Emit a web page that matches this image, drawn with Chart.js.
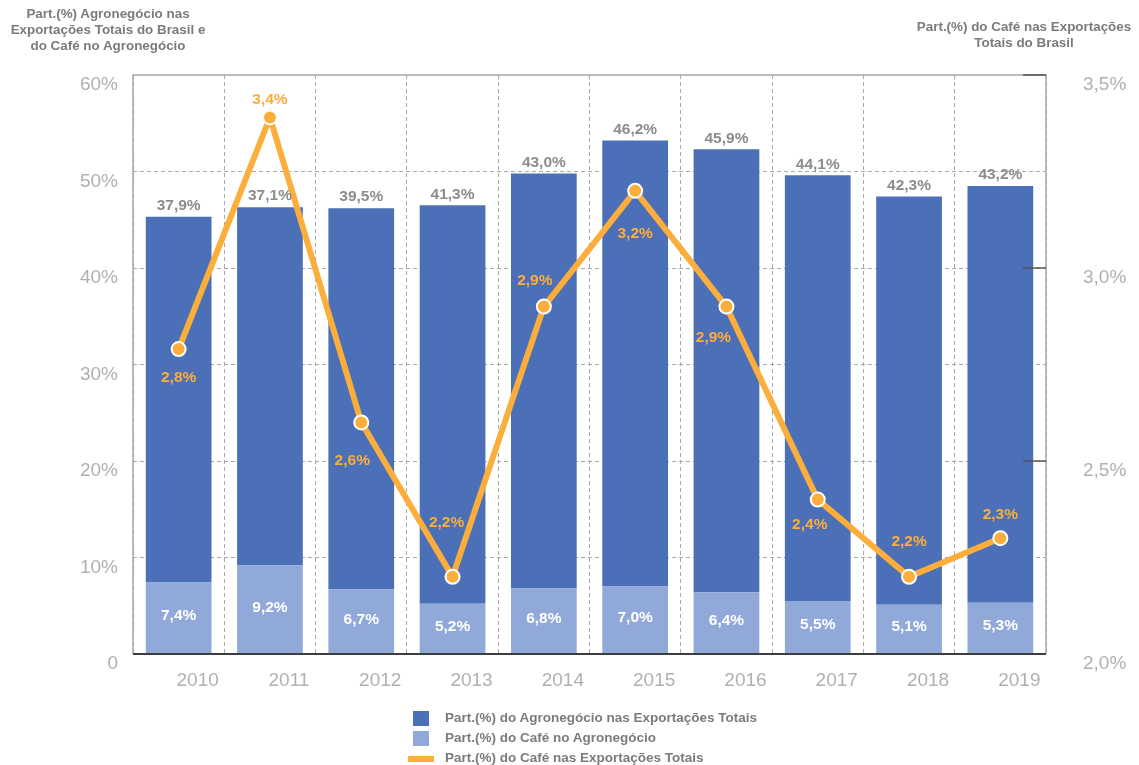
<!DOCTYPE html>
<html lang="pt-BR">
<head>
<meta charset="utf-8">
<title>Participação do Café nas Exportações</title>
<script src="https://cdn.jsdelivr.net/npm/chart.js@4.4.1/dist/chart.umd.min.js"></script>
<style>
    body { margin: 0; background: #fff; font-family: "Liberation Sans", Arial, sans-serif; }
    #wrap { position: relative; width: 1139px; height: 765px; }
    #chart { position: absolute; left: 0; top: 0; }
    .axis-title { position: absolute; font-weight: bold; font-size: 13.4px; line-height: 16px; color: #7b7b7b; text-align: center; white-space: nowrap; }
    #legend { position: absolute; left: 408px; top: 708px; font-weight: bold; font-size: 13.5px; color: #7b7b7b; }
    .item { position: relative; height: 20px; line-height: 20px; padding-left: 37px; white-space: nowrap; }
    .swatch { position: absolute; }
</style>
</head>
<body>
<div id="wrap">
    <canvas id="chart" width="1139" height="765"></canvas>
    <div class="axis-title" style="left:-2px; top:6px; width:220px;">Part.(%) Agronegócio nas<br>Exportações Totais do Brasil e<br>do Café no Agronegócio</div>
    <div class="axis-title" style="left:904px; top:19px; width:240px;">Part.(%) do Café nas Exportações<br>Totais do Brasil</div>
    <div id="legend"></div>
</div>
<script>
// ===== DATA =====
const years = ['2010', '2011', '2012', '2013', '2014', '2015', '2016', '2017', '2018', '2019'];
const agroShare = [37.9, 37.1, 39.5, 41.3, 43.0, 46.2, 45.9, 44.1, 42.3, 43.2];        // % agro in total exports
const coffeeShareAgro = [7.4, 9.2, 6.7, 5.2, 6.8, 7.0, 6.4, 5.5, 5.1, 5.3];           // % coffee in agro
const coffeeShareTotal = [2.79, 3.39, 2.6, 2.2, 2.9, 3.2, 2.9, 2.4, 2.2, 2.3];        // % coffee in total exports
const leftTicks = [0, 10, 20, 30, 40, 50, 60];
const rightTicks = [2.0, 2.5, 3.0, 3.5];

const seriesNames = [
    'Part.(%) do Agronegócio nas Exportações Totais',
    'Part.(%) do Café no Agronegócio',
    'Part.(%) do Café nas Exportações Totais'
];

// label placement for the line values (dx, dy from the point)
const lineLabelShift = [[0, 29], [0, -18], [-9, 38], [-6, -54], [-9, -26], [0, 43], [-13, 31], [-8, 25], [0, -35], [0, -23]];

// ===== STYLE =====
const FONT = '"Liberation Sans", Arial, sans-serif';
const DARK = '#4b70b7';
const LIGHT = '#91a9d9';
const ORANGE = '#fbae3c';
const GRID = '#a8a8a8';
const TICK_COLOR = '#b0b0b0';

const fmt = v => v.toFixed(1).replace('.', ',') + '%';

// ===== PLUGINS =====
const framePlugin = {
    id: 'frame',
    afterDatasetsDraw(chart) {
        const { ctx, chartArea: { left, top, right, bottom } } = chart;
        const y2 = chart.scales.y2;
        ctx.save();
        ctx.strokeStyle = GRID;
        ctx.lineWidth = 1.5;
        ctx.beginPath();
        ctx.moveTo(left, bottom);
        ctx.lineTo(left, top);
        ctx.lineTo(right, top);
        ctx.lineTo(right, bottom);
        ctx.stroke();

        // short inner ticks of the right axis
        ctx.strokeStyle = '#555';
        rightTicks.forEach(v => {
            const y = y2.getPixelForValue(v);
            ctx.beginPath();
            ctx.moveTo(right - 23, y);
            ctx.lineTo(right, y);
            ctx.stroke();
        });

        ctx.strokeStyle = '#3d3d3d';
        ctx.lineWidth = 2;
        ctx.beginPath();
        ctx.moveTo(left, bottom);
        ctx.lineTo(right, bottom);
        ctx.stroke();
        ctx.restore();
    }
};

const labelPlugin = {
    id: 'valueLabels',
    afterDatasetsDraw(chart) {
        const { ctx } = chart;
        const lineMeta = chart.getDatasetMeta(0);
        const lightMeta = chart.getDatasetMeta(1);
        const darkMeta = chart.getDatasetMeta(2);
        ctx.save();
        ctx.textAlign = 'center';
        ctx.textBaseline = 'middle';
        ctx.font = 'bold 15.5px ' + FONT;

        ctx.fillStyle = '#8c8c8c';
        darkMeta.data.forEach((bar, i) => ctx.fillText(fmt(agroShare[i]), bar.x, bar.y - 11));

        ctx.fillStyle = '#fff';
        lightMeta.data.forEach((bar, i) => ctx.fillText(fmt(coffeeShareAgro[i]), bar.x, (bar.y + bar.base) / 2 - 2));

        ctx.fillStyle = ORANGE;
        lineMeta.data.forEach((pt, i) => {
            const [dx, dy] = lineLabelShift[i];
            ctx.fillText(fmt(coffeeShareTotal[i]), pt.x + dx, pt.y + dy);
        });
        ctx.restore();
    }
};

// ===== CHART =====
const chart = new Chart(document.getElementById('chart'), {
    type: 'bar',
    data: {
        labels: years,
        datasets: [
            {
                type: 'line',
                label: seriesNames[2],
                data: coffeeShareTotal,
                yAxisID: 'y2',
                order: 0,
                borderColor: ORANGE,
                borderWidth: 6,
                pointRadius: 7,
                pointBackgroundColor: ORANGE,
                pointBorderColor: '#fff',
                pointBorderWidth: 2,
                tension: 0
            },
            {
                label: seriesNames[1],
                data: coffeeShareAgro,
                backgroundColor: LIGHT,
                order: 1
            },
            {
                label: seriesNames[0],
                data: agroShare,
                backgroundColor: DARK,
                order: 2
            }
        ]
    },
    options: {
        responsive: false,
        animation: false,
        layout: { padding: { top: 75, left: 0, right: 0, bottom: 0 } },
        datasets: { bar: { barPercentage: 0.72, categoryPercentage: 1 } },
        plugins: {
            legend: { display: false },
            tooltip: { enabled: false }
        },
        scales: {
            x: {
                stacked: true,
                afterFit: s => { s.height = 111; },
                grid: { offset: true, color: GRID, drawTicks: false },
                border: { display: false, dash: [4, 3] },
                ticks: { padding: 15, labelOffset: 19, color: TICK_COLOR, font: { size: 19, family: FONT } }
            },
            y: {
                stacked: true,
                min: 0,
                max: 60,
                afterBuildTicks: s => { s.ticks = leftTicks.map(v => ({ value: v })); },
                afterFit: s => { s.width = 133; },
                grid: {
                    color: c => (c.tick && c.tick.value > 0 && c.tick.value < 60) ? GRID : 'rgba(0,0,0,0)',
                    drawTicks: false
                },
                border: { display: false, dash: [4, 3] },
                ticks: {
                    padding: 15,
                    labelOffset: 10,
                    color: TICK_COLOR,
                    font: { size: 19, family: FONT },
                    callback: v => v === 0 ? '0' : v + '%'
                }
            },
            y2: {
                position: 'right',
                min: 2,
                max: 3.5,
                afterBuildTicks: s => { s.ticks = rightTicks.map(v => ({ value: v })); },
                afterFit: s => { s.width = 93; },
                grid: { display: false, drawTicks: false },
                border: { display: false },
                ticks: {
                    padding: 37,
                    labelOffset: 10,
                    color: TICK_COLOR,
                    font: { size: 19, family: FONT },
                    callback: v => fmt(v)
                }
            }
        }
    },
    plugins: [framePlugin, labelPlugin]
});

// ===== HTML LEGEND =====
const legendSwatches = [
    `<span class="swatch" style="left:5px; top:3px; width:16px; height:15px; background:${DARK}"></span>`,
    `<span class="swatch" style="left:5px; top:3px; width:16px; height:15px; background:${LIGHT}"></span>`,
    `<span class="swatch" style="left:0; top:8px; width:26px; height:6px; background:${ORANGE}"></span>`
];
document.getElementById('legend').innerHTML = seriesNames
    .map((name, i) => `<div class="item">${legendSwatches[i]}${name}</div>`)
    .join('');
</script>
</body>
</html>
